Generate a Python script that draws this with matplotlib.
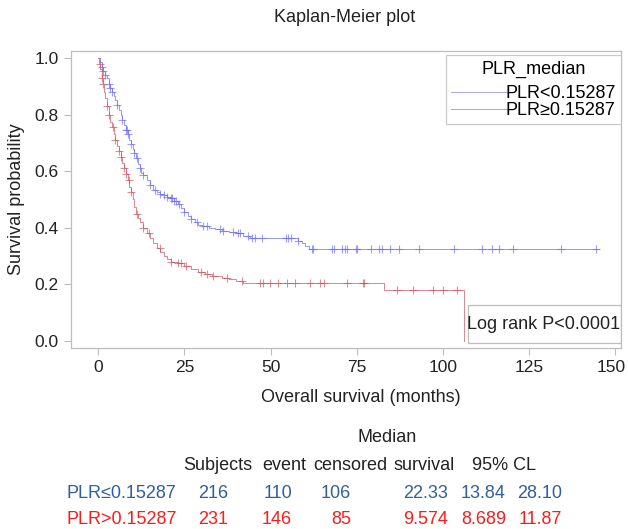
import numpy as np
import matplotlib
matplotlib.use('Agg')
from matplotlib import pyplot as plt
from matplotlib.patches import Rectangle
from matplotlib.transforms import ScaledTranslation

plt.rcParams['font.family'] = ['Liberation Sans', 'DejaVu Sans']

# Kaplan-Meier steps: time (months), survival after the step
low_t = [0, 0.5, 1, 1.5, 2, 2.5, 3, 3.5, 4, 4.5, 5, 5.5, 6, 6.5, 7, 7.5, 8, 8.5, 9, 9.5,
         10, 10.5, 11, 11.5, 12, 12.5, 13, 14, 15, 16, 17, 18, 19, 20, 21, 22, 23, 24,
         25, 26, 27, 28, 29, 30, 32, 34, 36, 38, 40, 42, 44, 58, 59, 60, 61, 145.2]
low_s = [1.0, 0.985, 0.97, 0.955, 0.94, 0.93, 0.91, 0.895, 0.88, 0.865, 0.85, 0.835, 0.815,
         0.80, 0.78, 0.765, 0.745, 0.73, 0.71, 0.695, 0.68, 0.665, 0.645, 0.625, 0.61, 0.595,
         0.585, 0.57, 0.55, 0.535, 0.525, 0.52, 0.515, 0.51, 0.505, 0.495, 0.485, 0.47,
         0.455, 0.44, 0.43, 0.42, 0.41, 0.405, 0.40, 0.395, 0.39, 0.385, 0.38, 0.372, 0.365,
         0.355, 0.345, 0.335, 0.325, 0.325]
low_cens = [1, 1.5, 2, 3, 3.5, 4, 5.5, 7, 8, 8.3, 8.6, 9.5, 10.5, 11.2, 12, 13, 15, 16.5,
            18, 19, 20, 21, 21.5, 22, 22.5, 23.5, 25, 27, 28.5, 30.5, 31.4, 35.3, 36.3,
            39.2, 40.6, 41.1, 43.5, 44.5, 45.4, 47.4, 54.5, 55.1, 55.9, 58, 62, 62.4, 67.8,
            68.4, 70.7, 71.5, 72.2, 74.8, 75.1, 79.1, 81.5, 82.2, 84.6, 87.3, 93, 103.2,
            111.4, 114.2, 116.3, 120.4, 134.2, 144.4]

high_t = [0, 0.3, 0.6, 1, 1.3, 1.6, 2, 2.5, 3, 3.5, 4, 4.5, 5, 5.5, 6, 6.5, 7, 7.5, 8, 8.5,
          9, 9.5, 10, 10.5, 11, 11.5, 12, 13, 14, 15, 16, 17, 18, 19, 20, 21, 23, 25, 27,
          29, 31, 33, 36, 38, 40, 42, 83, 106]
high_s = [1.0, 0.98, 0.96, 0.93, 0.91, 0.88, 0.86, 0.83, 0.80, 0.775, 0.755, 0.73, 0.71,
          0.69, 0.67, 0.65, 0.63, 0.61, 0.59, 0.57, 0.545, 0.525, 0.50, 0.475, 0.45, 0.435,
          0.42, 0.40, 0.38, 0.365, 0.345, 0.33, 0.315, 0.30, 0.29, 0.28, 0.275, 0.265,
          0.255, 0.245, 0.237, 0.23, 0.224, 0.218, 0.212, 0.204, 0.18, 0.0]
high_cens = [0.5, 1, 1.5, 2.5, 3, 4.2, 5, 6, 6.5, 7.5, 8, 8.8, 9.5, 11.3, 13.1, 14.8, 17.9,
             21.1, 23, 24, 25.5, 29.7, 31.4, 33.4, 37.2, 41.6, 46.9, 47.9, 49.8, 52.2, 54.7,
             57, 61.4, 64.3, 65.5, 72.1, 76.7, 77.1, 86.6, 91.4, 97.2, 100.1, 104]

group_labels = ['PLR<0.15287', 'PLR\u22650.15287']
table_groups = ['PLR\u22640.15287', 'PLR>0.15287']
table_values = [['216', '110', '106', '22.33', '13.84', '28.10'],
                ['231', '146', '85', '9.574', '8.689', '11.87']]
table_header = ['Subjects', 'event', 'censored', 'survival', '95% CL']

W, H = 628, 529
FS = 13
fig = plt.figure(figsize=(W / 100, H / 100), dpi=100)


def px(x, y):
    return x / W, 1 - y / H


ax = fig.add_axes([71 / W, 1 - 348 / H, (621 - 71) / W, (348 - 51) / H])

blue = '#6a6aff'
red = '#d4505c'

for t, s, c, col, lab in [(low_t, low_s, low_cens, blue, group_labels[0]),
                          (high_t, high_s, high_cens, red, group_labels[1])]:
    ax.step(t, s, where='post', color=col, lw=0.7, alpha=0.7, label=lab)
    # censor marks sit on the curve
    idx = np.searchsorted(t, c, side='right') - 1
    ax.plot(c, np.array(s)[idx], ls='none', marker='+', ms=6, mew=0.8,
            color=col, alpha=0.65)

ax.set_xlim(-7.9, 151.6)
ax.set_ylim(-0.025, 1.025)
ax.set_xticks([0, 25, 50, 75, 100, 125, 150])
ax.set_yticks([0.0, 0.2, 0.4, 0.6, 0.8, 1.0])
ax.set_yticklabels(['0.0', '0.2', '0.4', '0.6', '0.8', '1.0'])
for sp in ax.spines.values():
    sp.set_color('#bdbdbd')
    sp.set_linewidth(0.9)
ax.tick_params(length=5, color='#bdbdbd', labelsize=12.5, labelcolor='#222222', pad=4)
ax.set_ylabel('Survival probability', fontsize=FS, color='#222222', labelpad=7)

# keep the last x label inside the canvas
last = ax.get_xticklabels()[-1]
last.set_transform(last.get_transform() + ScaledTranslation(-4 / 100, 0, fig.dpi_scale_trans))

leg = ax.legend(title='PLR_median', loc='upper right', bbox_to_anchor=(1.0, 0.985),
                fontsize=FS, title_fontsize=FS, frameon=True, fancybox=False,
                edgecolor='#bdbdbd', handlelength=3.2, handletextpad=-0.2,
                labelspacing=0.0, borderpad=0.3, borderaxespad=0.0)
leg._legend_box.sep = 5
leg.get_frame().set_linewidth(0.9)
for line, lc in zip(leg.get_lines(), ['#9a9aff', '#e8808c']):
    line.set_linewidth(0.6)
    line.set_alpha(1)
    line.set_color(lc)

# log-rank box
ax.add_patch(Rectangle((107.3, -0.007), 151.6 - 107.3, 0.134, fill=False,
                       edgecolor='#bdbdbd', lw=0.9, zorder=3))
ax.text(151.4, 0.058, 'Log rank P<0.0001', ha='right', va='center', fontsize=FS,
        color='#222222', zorder=4)

fig.text(*px(345, 18), 'Kaplan-Meier plot', ha='center', va='center', fontsize=FS,
         color='#222222')
fig.text(*px(361, 397), 'Overall survival (months)', ha='center', va='center',
         fontsize=FS, color='#222222')

# summary table below the plot
fig.text(*px(387, 437), 'Median', ha='center', va='center', fontsize=FS, color='#222222')
head_x = [183, 262, 313, 394, 472]
for hx, h in zip(head_x, table_header):
    fig.text(*px(hx, 465), h, ha='left', va='center', fontsize=FS, color='#222222')

row_y = [493, 520]
row_col = ['#2f5f9e', '#ff1a1a']
val_right = [228, 292, 351, 448, 506, 562]
for ry, g, vals, col in zip(row_y, table_groups, table_values, row_col):
    fig.text(*px(66, ry), g, ha='left', va='center', fontsize=FS, color=col)
    for vx, v in zip(val_right, vals):
        fig.text(*px(vx, ry), v, ha='right', va='center', fontsize=FS, color=col)

fig.savefig('out.png', dpi=100)
